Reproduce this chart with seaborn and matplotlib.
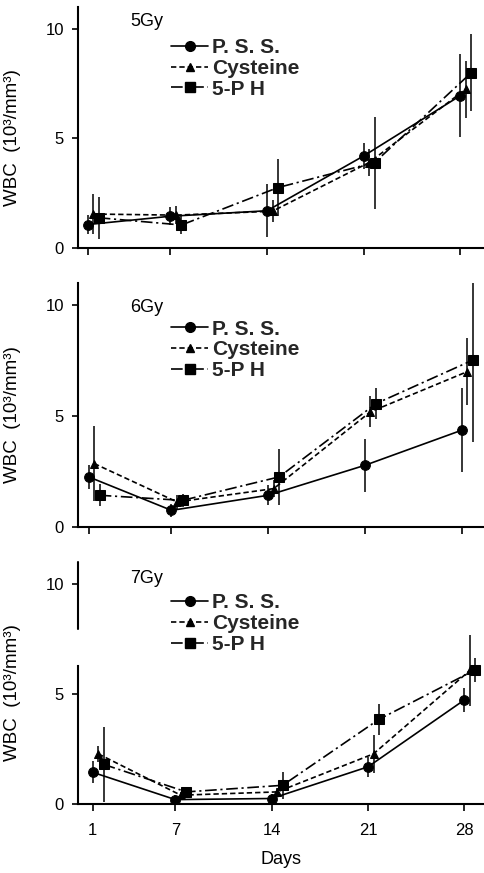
import matplotlib
matplotlib.use("Agg")
import matplotlib.pyplot as plt
import seaborn as sns
import pandas as pd
from matplotlib.lines import Line2D
from matplotlib import font_manager

# ---------------- data ----------------
days = [1, 7, 14, 21, 28]
series_names = ["P. S. S.", "Cysteine", "5-P H"]
panel_titles = ["5Gy", "6Gy", "7Gy"]
y_ticks = [0, 5, 10]

# 5 Gy
pss_5 = [1.07, 1.45, 1.70, 4.20, 6.95]
pss_5_err = [0.45, 0.40, 1.20, 0.60, 1.90]
cys_5 = [1.55, 1.50, 1.68, 3.90, 7.25]
cys_5_err = [0.90, 0.40, 0.50, 0.60, 1.30]
ph_5 = [1.38, 1.05, 2.76, 3.90, 8.00]
ph_5_err = [0.95, 0.40, 1.30, 2.10, 1.75]

# 6 Gy
pss_6 = [2.26, 0.75, 1.43, 2.78, 4.36]
pss_6_err = [0.55, 0.30, 0.45, 1.20, 1.90]
cys_6 = [2.86, 1.13, 1.73, 5.19, 7.00]
cys_6_err = [1.70, 0.30, 0.40, 0.70, 1.50]
ph_6 = [1.43, 1.20, 2.26, 5.56, 7.52]
ph_6_err = [0.50, 0.30, 1.25, 0.70, 3.70]

# 7 Gy
pss_7 = [1.44, 0.20, 0.25, 1.69, 4.73]
pss_7_err = [0.50, 0.20, 0.20, 0.45, 0.55]
cys_7 = [2.28, 0.40, 0.55, 2.28, 6.07]
cys_7_err = [0.35, 0.15, 0.20, 0.85, 1.60]
ph_7 = [1.80, 0.55, 0.85, 3.85, 6.10]
ph_7_err = [1.70, 0.20, 0.60, 0.70, 0.55]

panel_values = [
    [(pss_5, pss_5_err), (cys_5, cys_5_err), (ph_5, ph_5_err)],
    [(pss_6, pss_6_err), (cys_6, cys_6_err), (ph_6, ph_6_err)],
    [(pss_7, pss_7_err), (cys_7, cys_7_err), (ph_7, ph_7_err)],
]

# ---------------- style ----------------
sns.set_theme(style="ticks")
available = {f.name for f in font_manager.fontManager.ttflist}
narrow = "Liberation Sans Narrow" if "Liberation Sans Narrow" in available else "Liberation Sans"
plt.rcParams["font.family"] = [narrow, "DejaVu Sans"]

x_offsets = [0.0, 0.4, 0.8]
markers = ["o", "^", "s"]
msizes = [7, 6, 7]
linestyles = ["-", (0, (3.2, 1.8)), (0, (7, 2.2, 1.3, 2.2))]

fig = plt.figure(figsize=(4.85, 8.73), dpi=100)
W, H = 485, 873
ax_px = [(7, 248), (283, 527), (562, 804)]  # top, bottom in pixels
xlims = [(0.30, 29.8), (0.23, 29.7), (-0.07, 29.5)]
title_y = [0.94, 0.90, 0.93]
legend_y = [0.87, 0.85, 0.87]

left_px = 78
axes = []
for i, (top, bot) in enumerate(ax_px):
    ax = fig.add_axes([left_px / W, 1 - bot / H, 1 - left_px / W, (bot - top) / H])
    axes.append(ax)
    for j, (vals, errs) in enumerate(panel_values[i]):
        xs = [d + x_offsets[j] for d in days]
        df = pd.DataFrame({"x": xs, "y": vals})
        ax.errorbar(xs, vals, yerr=errs, fmt="none", ecolor="black",
                    elinewidth=1.1, capsize=0, zorder=2)
        sns.lineplot(data=df, x="x", y="y", ax=ax, color="black",
                     marker=markers[j], markersize=msizes[j],
                     markeredgecolor="black", markerfacecolor="black",
                     linestyle=linestyles[j], linewidth=1.2, zorder=3,
                     sort=False)
    ax.set_xlim(*xlims[i])
    ax.set_ylim(0, 11)
    ax.set_yticks(y_ticks)
    ax.set_xticks(days)
    ax.tick_params(axis="both", direction="out", length=4, width=1.2,
                   labelsize=12, color="black", labelcolor="black")
    ax.tick_params(axis="y", pad=6)
    ax.tick_params(axis="x", length=5, pad=9)
    if i < 2:
        ax.set_xticklabels([])
        ax.set_xlabel("")
    else:
        ax.set_xlabel("Days", fontsize=13, labelpad=9, color="black")
    ax.set_ylabel("WBC  (10³/mm³)", fontsize=13.5, color="black")
    ax.yaxis.set_label_coords(-0.14, 0.46)
    for s in ["top", "right"]:
        ax.spines[s].set_visible(False)
    for s in ["left", "bottom"]:
        ax.spines[s].set_linewidth(1.5)
        ax.spines[s].set_color("black")
    ax.text(0.128, title_y[i], panel_titles[i], transform=ax.transAxes,
            fontsize=13, va="center", ha="left", color="black")
    handles = [Line2D([0], [0], color="black", marker=markers[j],
                      markersize=msizes[j], linestyle=linestyles[j],
                      linewidth=1.2) for j in range(3)]
    ax.legend(handles, series_names, loc="upper left",
              bbox_to_anchor=(0.228, legend_y[i]), frameon=False,
              prop={"family": ["Liberation Sans", "DejaVu Sans"], "weight": "bold", "size": 15},
              handlelength=1.8, handletextpad=0.2, labelspacing=0.08,
              borderpad=0, borderaxespad=0)

# broken left spine in the 7Gy panel
ax3 = axes[2]
ax3.spines["left"].set_bounds(0, 6.27)
ax3.axvline(xlims[2][0], ymin=7.96 / 11, ymax=1, color="black", linewidth=1.5,
            clip_on=False)

fig.savefig("out.png", dpi=100)
